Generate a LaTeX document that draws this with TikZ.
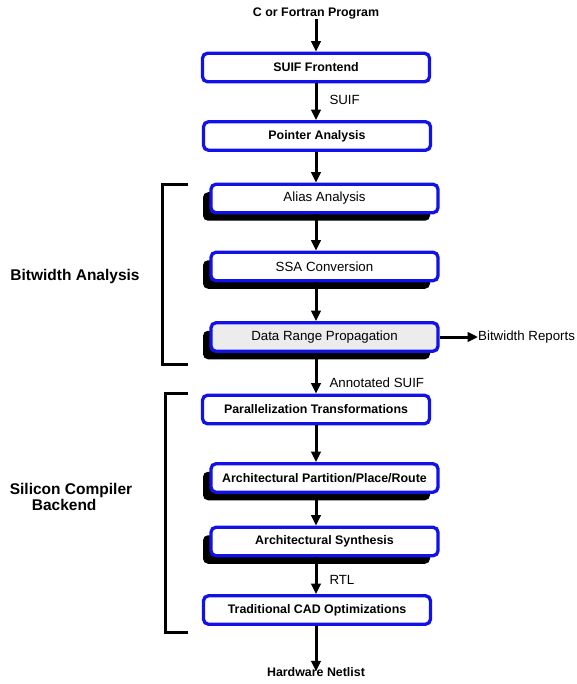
\documentclass[tikz,border=0pt]{standalone}
\usepackage{fontspec}
\setmainfont{Liberation Sans}
\usetikzlibrary{arrows.meta,shadows}
\definecolor{stageblue}{RGB}{18,18,232}
\definecolor{rangegray}{RGB}{236,236,236}
\tikzset{
    stage/.style={draw=stageblue, line width=3.3pt, rounded corners=5pt, fill=white,
        minimum width=227pt, minimum height=28.5pt, inner sep=0pt,
        font=\fontsize{12.4}{14}\selectfont\bfseries},
    shadowed/.style={drop shadow={shadow xshift=-8pt, shadow yshift=-8pt, fill=black, opacity=1}},
    lightface/.style={font=\fontsize{13.3}{15}\selectfont},
    endtext/.style={inner sep=0pt, font=\fontsize{12.4}{14}\selectfont\bfseries},
    sidetext/.style={inner sep=0pt, font=\fontsize{15.5}{16}\selectfont\bfseries},
    flowlabel/.style={right, inner sep=0pt, xshift=12pt, font=\fontsize{13.3}{15}\selectfont},
    flow/.style={line width=3pt, -{Triangle[length=10.5pt, width=9.5pt]}},
    bracket/.style={line width=3pt}
}
\begin{document}
\begin{tikzpicture}[x=1pt, y=-1pt]
    \useasboundingbox (0,0) rectangle (576,684);
    \coordinate (spine) at (316,0);
    % front end
    \node[endtext] (source) at (316,13) {C or Fortran Program};
    \node[stage] (frontend) at (316,67.5) {SUIF Frontend};
    \node[stage] (pointer) at (317,136) {Pointer Analysis};
    % bitwidth analysis
    \node[stage, shadowed, lightface] (alias) at (324.5,198.5) {Alias Analysis};
    \node[stage, shadowed, lightface] (ssa) at (324.5,266.5) {SSA Conversion};
    \node[stage, shadowed, lightface, fill=rangegray] (range) at (324.5,337) {Data Range Propagation};
    \node[lightface, inner sep=0pt, anchor=west] (reports) at (478,337) {Bitwidth Reports};
    % silicon compiler backend
    \node[stage] (parallel) at (316,409.5) {Parallelization Transformations};
    \node[stage, shadowed] (partition) at (324.5,478) {Architectural Partition/Place/Route};
    \node[stage, shadowed] (synthesis) at (324.5,541.5) {Architectural Synthesis};
    \node[stage] (cad) at (317,610) {Traditional CAD Optimizations};
    \node[endtext] (netlist) at (316,672) {Hardware Netlist};
    % flow
    \draw[flow] (source.south -| spine) -- (frontend.north -| spine);
    \draw[flow] (frontend.south -| spine) -- (pointer.north -| spine) node[flowlabel, pos=0.46] {SUIF};
    \draw[flow] (pointer.south -| spine) -- (alias.north -| spine);
    \draw[flow] (alias.south -| spine) -- (ssa.north -| spine);
    \draw[flow] (ssa.south -| spine) -- (range.north -| spine);
    \draw[flow] (range.east) -- (reports.west);
    \draw[flow] (range.south -| spine) -- (parallel.north -| spine) node[flowlabel, pos=0.73] {Annotated SUIF};
    \draw[flow] (parallel.south -| spine) -- (partition.north -| spine);
    \draw[flow] (partition.south -| spine) -- (synthesis.north -| spine);
    \draw[flow] (synthesis.south -| spine) -- (cad.north -| spine) node[flowlabel, pos=0.62] {RTL};
    \draw[flow] (cad.south -| spine) -- ([yshift=-4pt]netlist.north -| spine);
    % brackets
    \draw[bracket] (188,185) -| (162,364) -- (188,364);
    \draw[bracket] (188,393) -| (165,632) -- (188,632);
    \node[sidetext] (bitwidth) at (75,276) {Bitwidth Analysis};
    \node[sidetext, align=left] (backend) at (71,497) {Silicon Compiler\\\hspace*{22pt}Backend};
\end{tikzpicture}
\end{document}
